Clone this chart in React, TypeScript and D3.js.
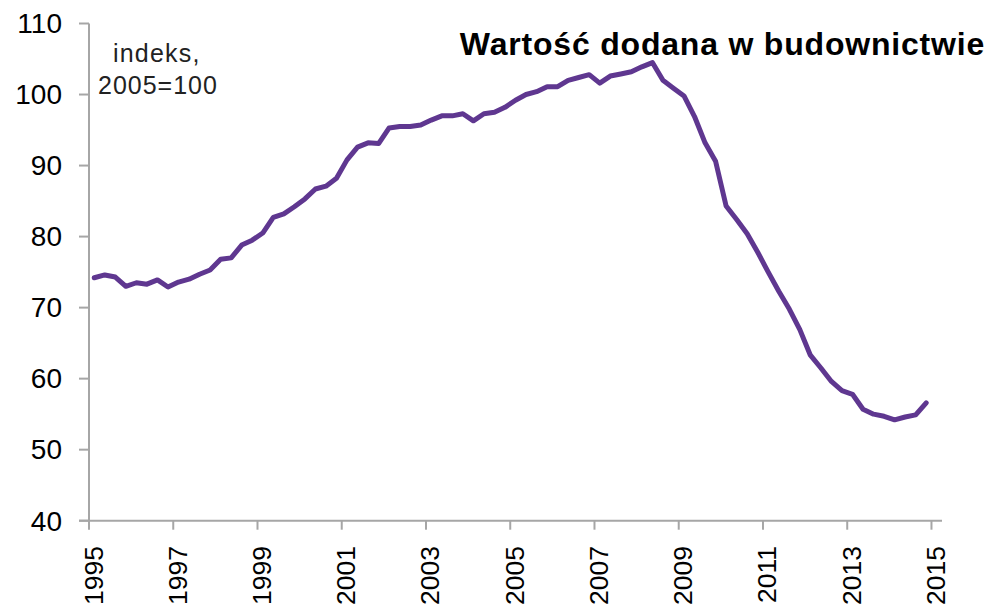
import React from "react";
import * as d3 from "d3";

// Quarterly index values, 1995Q1 .. 2014Q4 (2005=100)
const values: number[] = [
  74.2, 74.6, 74.3, 73.0, 73.5, 73.3, 73.9, 72.9,
  73.6, 74.0, 74.7, 75.3, 76.8, 77.0, 78.8, 79.5,
  80.5, 82.7, 83.2, 84.2, 85.3, 86.7, 87.1, 88.2,
  90.8, 92.6, 93.2, 93.1, 95.3, 95.5, 95.5, 95.7,
  96.4, 97.0, 97.0, 97.3, 96.3, 97.3, 97.5, 98.2,
  99.2, 100.0, 100.4, 101.1, 101.1, 102.0, 102.4, 102.8,
  101.6, 102.6, 102.9, 103.2, 103.9, 104.5, 102.0, 100.9,
  99.8, 96.9, 93.2, 90.6, 84.3, 82.4, 80.4, 77.8,
  75.0, 72.3, 69.8, 66.9, 63.3, 61.5, 59.6, 58.3,
  57.8, 55.7, 55.0, 54.7, 54.2, 54.6, 54.9, 56.6,
];
const startYear = 1995;
const xTickYears: number[] = [1995, 1997, 1999, 2001, 2003, 2005, 2007, 2009, 2011, 2013, 2015];
const yTicks: number[] = [40, 50, 60, 70, 80, 90, 100, 110];
const title = "Wartość dodana w budownictwie";
const noteLines: string[] = ["indeks,", "2005=100"];

const W = 992;
const H = 606;
const left = 89;
const right = 942;
const top = 23.5;
const bottom = 520.7;
const font = "'Liberation Sans', Arial, sans-serif";

export default function App() {
  const nQ = values.length + 1;
  const x = d3.scaleLinear().domain([0, nQ]).range([left, right]);
  const y = d3.scaleLinear().domain([40, 110]).range([bottom, top]);
  const line = d3
    .line<number>()
    .x((_, i) => x(i + 0.5))
    .y((d) => y(d))
    .curve(d3.curveLinear);

  const axisColor = "#a6a6a6";
  return (
    <svg
      width={W}
      height={H}
      style={{ position: "absolute", left: 0, top: 0, background: "#fff" }}
    >
      {/* axes */}
      <line x1={left} x2={left} y1={top} y2={bottom} stroke={axisColor} strokeWidth={2} />
      <line x1={left - 10} x2={right} y1={bottom} y2={bottom} stroke={axisColor} strokeWidth={2} />
      {yTicks.map((t) => (
        <g key={t}>
          <line x1={left - 10} x2={left} y1={y(t)} y2={y(t)} stroke={axisColor} strokeWidth={2} />
          <text
            x={62}
            y={y(t)}
            dy="0.35em"
            textAnchor="end"
            fontFamily={font}
            fontSize={28}
            fill="#000"
          >
            {t}
          </text>
        </g>
      ))}
      {xTickYears.map((yr) => {
        const xx = x((yr - startYear) * 4);
        return (
          <g key={yr}>
            <line x1={xx} x2={xx} y1={bottom} y2={bottom + 9} stroke={axisColor} strokeWidth={2} />
            <text
              transform={`translate(${xx + 13.5},546) rotate(-90)`}
              textAnchor="end"
              fontFamily={font}
              fontSize={26.5}
              fill="#000"
            >
              {yr}
            </text>
          </g>
        );
      })}
      <path
        d={line(values) || ""}
        fill="none"
        stroke="#5f3790"
        strokeWidth={5}
        strokeLinejoin="round"
        strokeLinecap="round"
      />
      <text
        x={985}
        y={55}
        textAnchor="end"
        fontFamily={font}
        fontWeight="bold"
        fontSize={32}
        letterSpacing={0.8}
        fill="#000"
      >
        {title}
      </text>
      <text x={113} y={62} fontFamily={font} fontSize={25} fill="#222" letterSpacing={1.2}>
        {noteLines[0]}
      </text>
      <text x={98} y={94} fontFamily={font} fontSize={25} fill="#222" letterSpacing={1}>
        {noteLines[1]}
      </text>
    </svg>
  );
}
